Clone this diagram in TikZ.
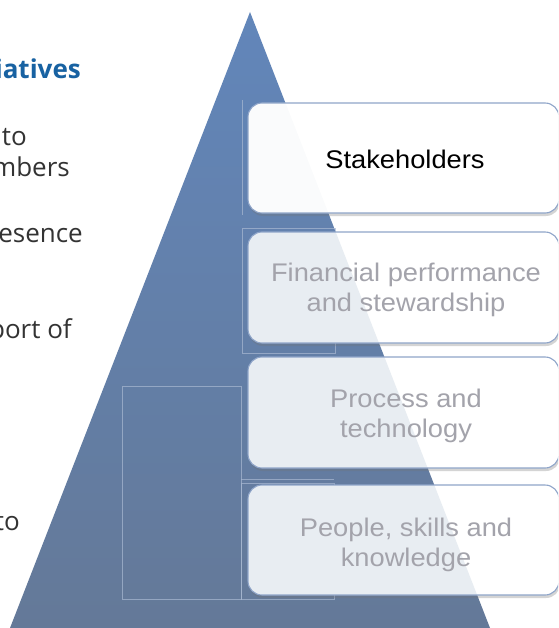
\documentclass[tikz,border=0pt]{standalone}
\usepackage{fontspec}
\newfontfamily\boxfont[FakeStretch=1.07]{Liberation Sans}
\newfontfamily\sidefont{Open Sans}
\definecolor{pyrtop}{HTML}{6286BA}
\definecolor{pyrbot}{HTML}{647998}
\definecolor{boxedge}{HTML}{8FA5C9}
\definecolor{boxtext}{HTML}{A3A3AB}
\definecolor{headblue}{HTML}{1862A2}
\definecolor{sidetext}{HTML}{333333}
\definecolor{faint}{HTML}{A9B9D2}
\tikzset{
  tiershadow/.style={fill=black!55, fill opacity=0.3, rounded corners=14pt},
  tierfill/.style={fill=white, rounded corners=14pt},
  tieredge/.style={draw=boxedge, line width=1.1pt, rounded corners=14pt},
  tiertext/.style={font=\boxfont\fontsize{25.5}{30}\selectfont, text=boxtext, align=center},
  side/.style={font=\sidefont\fontsize{26}{30}\selectfont, text=sidetext, anchor=base east, inner sep=0pt},
  faintline/.style={draw=faint, line width=0.6pt, draw opacity=0.7}
}
\newcommand{\pyrpath}{(250,12) -- (490,628) -- (10,628) -- cycle}
\newcommand{\tierbox}[5]{% left top right bottom tint
  \fill[tiershadow] (#1+1,#2+3) rectangle (#3+1,#4+3);
  \fill[tierfill] (#1,#2) rectangle (#3,#4);
  \begin{scope}
    \clip[rounded corners=14pt] (#1,#2) rectangle (#3,#4);
    \fill[pyrtop!50!pyrbot, fill opacity=#5] \pyrpath;
  \end{scope}
  \draw[tieredge] (#1,#2) rectangle (#3,#4);
}
\begin{document}
\begin{tikzpicture}[x=1pt,y=-1pt]
\useasboundingbox (0,0) rectangle (558,628);
\clip (0,0) rectangle (558,628);
\fill[white] (0,0) rectangle (558,628);

% side texts (cut off by page edge)
\node[side, font=\sidefont\bfseries\fontsize{26}{30}\selectfont, text=headblue] (h1) at (81,79) {iatives};
\node[side] (s1) at (27,146) {to};
\node[side] (s2) at (70,177) {mbers};
\node[side] (s3) at (83,242) {esence};
\node[side] (s4) at (72,338) {port of};
\node[side] (s5) at (20,530) {to};

% pyramid
\shade[top color=pyrtop, bottom color=pyrbot] \pyrpath;

% faint frames
\draw[faintline] (242,100) -- (242,215);
\draw[faintline] (242,228) rectangle (335,353);
\draw[faintline] (122,386) rectangle (241,599);
\draw[faintline] (241,479) -- (334,479);
\draw[faintline] (241,483) rectangle (334,599);

% tiers
\tierbox{248}{103}{559}{213}{0.03}
\tierbox{248}{232}{559}{343}{0.14}
\tierbox{248}{357}{559}{468}{0.14}
\tierbox{248}{485}{559}{595}{0.14}

\node[tiertext, text=black] (t1) at (405,159) {Stakeholders};
\node[tiertext] (t2) at (406,290) {Financial performance\\and stewardship};
\node[tiertext] (t3) at (406,416) {Process and\\technology};
\node[tiertext] (t4) at (406,545) {People, skills and\\knowledge};
\end{tikzpicture}
\end{document}
